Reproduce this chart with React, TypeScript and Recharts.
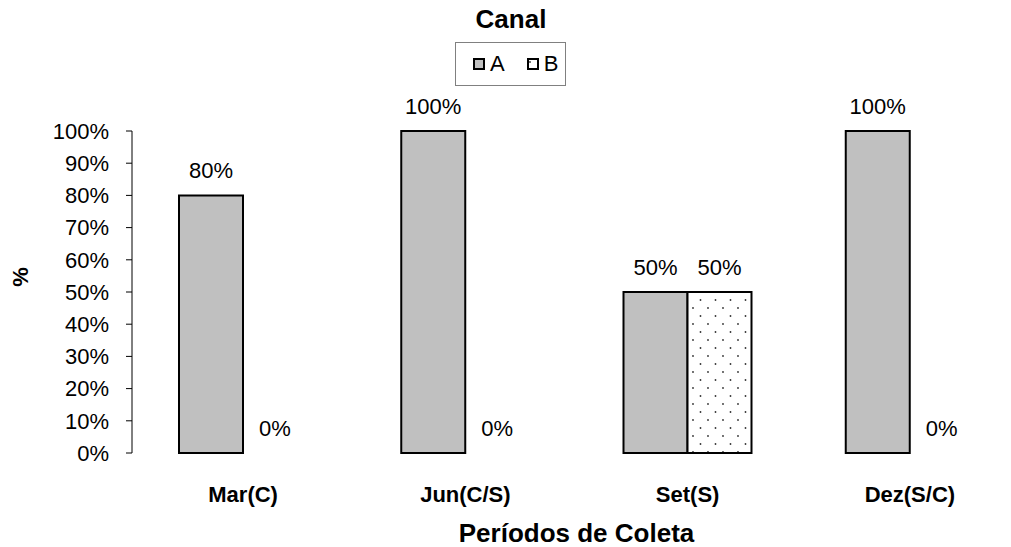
import React from "react";
import { BarChart, Bar, XAxis, YAxis, LabelList, Cell } from "recharts";

// dados
const periodos = ["Mar(C)", "Jun(C/S)", "Set(S)", "Dez(S/C)"];
const canalA = [80, 100, 50, 100];
const canalB = [0, 0, 50, 0];
const yTicks = [0, 10, 20, 30, 40, 50, 60, 70, 80, 90, 100];
const series = [
  { key: "A", fill: "#c0c0c0", values: canalA },
  { key: "B", fill: "url(#dots)", values: canalB },
];

const data = periodos.map((p, i) => ({ periodo: p, A: canalA[i], B: canalB[i] }));
// limites entre categorias (marcas do eixo X)
const edgeTicks = [...periodos.map((_, i) => i), periodos.length];

const FONT = "'Liberation Sans', Arial, sans-serif";

export default function App() {
  return (
    <div
      style={{
        position: "fixed",
        left: 0,
        top: 0,
        width: 1011,
        height: 547,
        overflow: "hidden",
        background: "#fff",
        fontFamily: FONT,
      }}
    >
      <svg width={0} height={0} style={{ position: "absolute" }}>
        <defs>
          <pattern id="dots" width={15} height={16} patternUnits="userSpaceOnUse">
            <rect width={15} height={16} fill="#fff" />
            <circle cx={3} cy={4} r={0.9} fill="#333" />
            <circle cx={10.5} cy={12} r={0.9} fill="#333" />
          </pattern>
        </defs>
      </svg>

      <BarChart
        width={1030}
        height={547}
        data={data}
        margin={{ top: 131, right: 9, left: 0, bottom: 0 }}
        barSize={64}
        barGap={0}
        style={{ fontFamily: FONT }}
      >
        <XAxis
          xAxisId={0}
          type="number"
          domain={[0, periodos.length]}
          ticks={edgeTicks}
          allowDataOverflow
          interval={0}
          tick={false}
          tickSize={6}
          height={0}
          axisLine={{ stroke: "#000", strokeWidth: 1 }}
          tickLine={{ stroke: "#000" }}
        />
        <XAxis
          xAxisId={1}
          dataKey="periodo"
          height={94}
          axisLine={false}
          tickLine={false}
          tickSize={0}
          tickMargin={33}
          interval={0}
          tick={{ fill: "#000", fontSize: 22, fontWeight: "bold" }}
          label={{
            value: "Períodos de Coleta",
            position: "insideBottom",
            offset: 5,
            fill: "#000",
            fontSize: 26,
            fontWeight: "bold",
          }}
        />
        <YAxis
          width={132}
          domain={[0, 100]}
          ticks={yTicks}
          interval={0}
          tickFormatter={(v) => `${v}%`}
          tickSize={6}
          tickMargin={17}
          axisLine={{ stroke: "#000" }}
          tickLine={{ stroke: "#000" }}
          tick={{ fill: "#000", fontSize: 22 }}
        />
        {series.map((s) => (
          <Bar
            key={s.key}
            xAxisId={1}
            dataKey={s.key}
            fill={s.fill}
            stroke="#000"
            strokeWidth={2}
            minPointSize={0.01}
            isAnimationActive={false}
          >
            {s.values.map((v, i) => (
              <Cell
                key={`cell-${i}`}
                fill={v === 0 ? "none" : s.fill}
                stroke={v === 0 ? "none" : "#000"}
              />
            ))}
            <LabelList
              dataKey={s.key}
              position="top"
              offset={17}
              formatter={(v: number) => `${v}%`}
              fill="#000"
              fontSize={22}
            />
          </Bar>
        ))}
      </BarChart>

      {/* título */}
      <div
        style={{
          position: "absolute",
          left: 411,
          width: 200,
          top: 4,
          textAlign: "center",
          fontSize: 26,
          fontWeight: "bold",
          lineHeight: "30px",
        }}
      >
        Canal
      </div>

      {/* legenda */}
      <div
        style={{
          position: "absolute",
          left: 455,
          top: 42,
          width: 111,
          height: 44,
          boxSizing: "border-box",
          border: "1px solid #808080",
          display: "flex",
          alignItems: "center",
          paddingLeft: 17,
          fontSize: 22,
        }}
      >
        {series.map((s) => (
          <div key={s.key} style={{ display: "flex", alignItems: "center", marginRight: 22 }}>
            <svg width={12} height={12} style={{ marginRight: 5 }}>
              <rect x={1} y={1} width={10} height={10} fill={s.fill} stroke="#000" strokeWidth={2} />
            </svg>
            <span>{s.key}</span>
          </div>
        ))}
      </div>

      {/* rótulo do eixo Y */}
      <div
        style={{
          position: "absolute",
          left: 1,
          top: 262,
          width: 40,
          textAlign: "center",
          fontSize: 22,
          fontWeight: "bold",
          lineHeight: "30px",
          transform: "rotate(-90deg)",
        }}
      >
        %
      </div>
    </div>
  );
}
